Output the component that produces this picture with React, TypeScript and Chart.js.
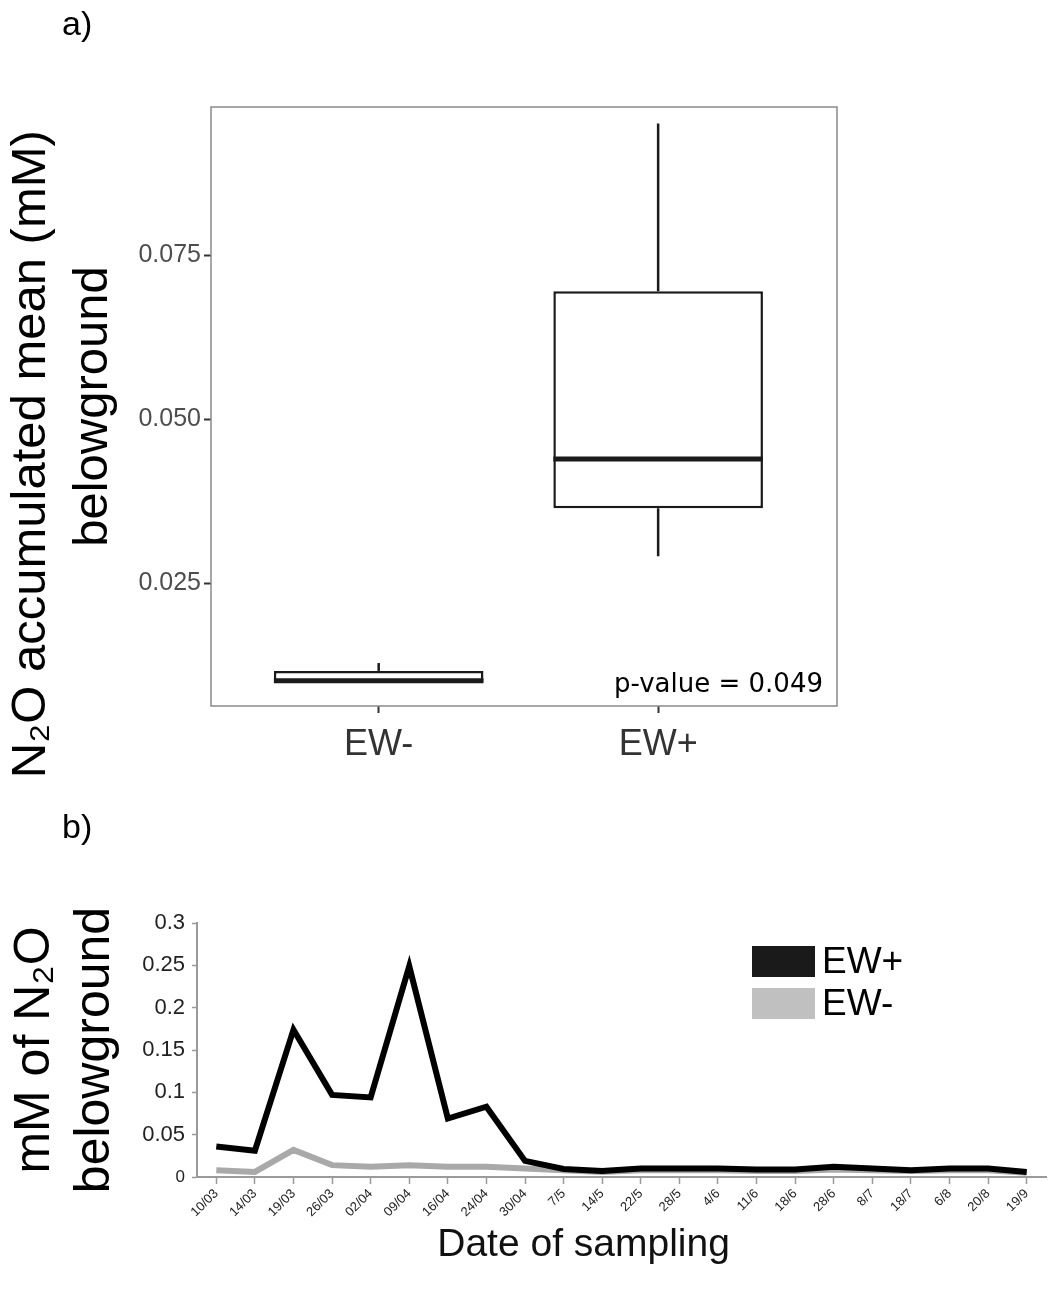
import React, { useEffect, useRef } from 'react';
import { Chart, registerables } from 'chart.js';

Chart.register(...registerables);

// ---------- Panel a) box plot data ----------
const boxCategories = ['EW-', 'EW+'];
const boxWhiskerLow = [0.0099, 0.0291];
const boxQ1 = [0.0099, 0.0364];
const boxMedian = [0.0101, 0.0439];
const boxQ3 = [0.0116, 0.0695];
const boxWhiskerHigh = [0.0128, 0.0951];
const boxYTicks = [0.025, 0.05, 0.075];
const pValueText = 'p-value = 0.049';

// ---------- Panel b) time series data ----------
const sampleDates = ['10/03', '14/03', '19/03', '26/03', '02/04', '09/04', '16/04', '24/04', '30/04', '7/5', '14/5', '22/5', '28/5', '4/6', '11/6', '18/6', '28/6', '8/7', '18/7', '6/8', '20/8', '19/9'];
const ewPlus = [0.036, 0.031, 0.174, 0.097, 0.094, 0.249, 0.069, 0.083, 0.019, 0.0095, 0.007, 0.010, 0.010, 0.010, 0.009, 0.009, 0.012, 0.010, 0.008, 0.010, 0.010, 0.006];
const ewMinus = [0.008, 0.006, 0.032, 0.014, 0.012, 0.014, 0.012, 0.012, 0.010, 0.008, 0.006, 0.008, 0.008, 0.008, 0.007, 0.007, 0.009, 0.008, 0.007, 0.008, 0.008, 0.005];
const lineYTicks = [0, 0.05, 0.1, 0.15, 0.2, 0.25, 0.3];
const seriesNames = ['EW+', 'EW-'];

const SANS = '"Liberation Sans", Arial, Helvetica, sans-serif';

const boxExtrasPlugin = {
  id: 'boxExtras',
  afterDatasetsDraw(chart: any) {
    const { ctx, scales, chartArea } = chart;
    const x = scales.x;
    const y = scales.y;
    ctx.save();
    ctx.strokeStyle = '#1a1a1a';
    ctx.lineCap = 'butt';
    boxCategories.forEach((_, i) => {
      const cx = x.getPixelForValue(i + 1);
      const half = x.getPixelForValue(i + 1 + 0.375) - cx;
      ctx.lineWidth = 2.5;
      ctx.beginPath();
      ctx.moveTo(cx, y.getPixelForValue(boxQ3[i]));
      ctx.lineTo(cx, y.getPixelForValue(boxWhiskerHigh[i]));
      ctx.moveTo(cx, y.getPixelForValue(boxQ1[i]));
      ctx.lineTo(cx, y.getPixelForValue(boxWhiskerLow[i]));
      ctx.stroke();
      ctx.lineWidth = 5;
      ctx.beginPath();
      const my = y.getPixelForValue(boxMedian[i]);
      ctx.moveTo(cx - half, my);
      ctx.lineTo(cx + half, my);
      ctx.stroke();
    });
    ctx.fillStyle = '#000';
    ctx.font = '26px "DejaVu Sans", sans-serif';
    ctx.textAlign = 'right';
    ctx.textBaseline = 'alphabetic';
    ctx.fillText(pValueText, chartArea.right - 14, chartArea.bottom - 14);
    ctx.restore();
  },
  afterDraw(chart: any) {
    const { ctx, chartArea } = chart;
    ctx.save();
    ctx.strokeStyle = '#8a8a8a';
    ctx.lineWidth = 1.5;
    ctx.strokeRect(chartArea.left, chartArea.top, chartArea.right - chartArea.left, chartArea.bottom - chartArea.top);
    ctx.restore();
  },
};

const lineLegendPlugin = {
  id: 'lineLegend',
  afterDraw(chart: any) {
    const { ctx, chartArea } = chart;
    ctx.save();
    const bx = chartArea.right - 294;
    let by = chartArea.top + 23;
    const colors = ['#1a1a1a', '#c0c0c0'];
    ctx.font = `37px ${SANS}`;
    ctx.textAlign = 'left';
    ctx.textBaseline = 'middle';
    seriesNames.forEach((name, i) => {
      ctx.fillStyle = colors[i];
      ctx.fillRect(bx, by, 63, 31);
      ctx.fillStyle = '#000';
      ctx.fillText(name, bx + 70, by + 17);
      by += 42;
    });
    ctx.restore();
  },
};

function BoxChart() {
  const ref = useRef<HTMLCanvasElement>(null);
  useEffect(() => {
    const chart = new Chart(ref.current as HTMLCanvasElement, {
      type: 'bar',
      data: {
        datasets: [
          {
            label: 'box',
            data: boxCategories.map((_, i) => ({ x: i + 1, y: [boxQ1[i], boxQ3[i]] })) as any,
            backgroundColor: '#ffffff',
            borderColor: '#1a1a1a',
            borderWidth: 2.5,
            borderSkipped: false,
            barPercentage: 0.75,
            categoryPercentage: 1,
          },
        ],
      },
      options: {
        responsive: false,
        animation: false,
        layout: { padding: { top: 107, right: 213, left: 0, bottom: 0 } },
        plugins: { legend: { display: false }, tooltip: { enabled: false }, title: { display: false } },
        scales: {
          x: {
            type: 'linear',
            offset: false,
            min: 0.4,
            max: 2.64,
            afterBuildTicks: (s: any) => {
              s.ticks = boxCategories.map((_, i) => ({ value: i + 1 }));
            },
            afterFit: (s: any) => {
              s.height = 84;
            },
            ticks: {
              autoSkip: false,
              maxRotation: 0,
              callback: (v: any) => boxCategories[Number(v) - 1] ?? '',
              font: { size: 36, family: SANS },
              color: '#333333',
              padding: 10,
            },
            grid: { display: true, offset: false, drawOnChartArea: false, drawTicks: true, tickLength: 7, tickColor: '#333333', tickWidth: 2 },
            border: { display: false },
          },
          y: {
            min: 0.00625,
            max: 0.0976,
            afterBuildTicks: (s: any) => {
              s.ticks = boxYTicks.map((v) => ({ value: v }));
            },
            afterFit: (s: any) => {
              s.width = 211;
            },
            ticks: {
              callback: (v: any) => Number(v).toFixed(3),
              font: { size: 25, family: SANS },
              color: '#4d4d4d',
              padding: 3,
            },
            grid: { display: true, drawOnChartArea: false, drawTicks: true, tickLength: 7, tickColor: '#333333', tickWidth: 2 },
            border: { display: false },
            title: {
              display: true,
              text: ['N\u2082O accumulated mean (mM)       ', 'belowground'],
              font: { size: 49, family: SANS, lineHeight: 1.26 },
              color: '#000',
              padding: { top: 1, bottom: 0 },
            },
          },
        },
      },
      plugins: [boxExtrasPlugin],
    });
    return () => chart.destroy();
  }, []);
  return <canvas ref={ref} width={1050} height={790} style={{ display: 'block' }} />;
}

function LineChart() {
  const ref = useRef<HTMLCanvasElement>(null);
  useEffect(() => {
    const chart = new Chart(ref.current as HTMLCanvasElement, {
      type: 'line',
      data: {
        labels: sampleDates,
        datasets: [
          {
            label: seriesNames[0],
            data: ewPlus,
            borderColor: '#000000',
            backgroundColor: '#000000',
            borderWidth: 6,
            pointRadius: 0,
            tension: 0,
            fill: false,
          },
          {
            label: seriesNames[1],
            data: ewMinus,
            borderColor: '#a9a9a9',
            backgroundColor: '#a9a9a9',
            borderWidth: 6,
            pointRadius: 0,
            tension: 0,
            fill: false,
          },
        ],
      },
      options: {
        responsive: false,
        animation: false,
        layout: { padding: { top: 133, right: 4, left: 0, bottom: 0 } },
        plugins: { legend: { display: false }, tooltip: { enabled: false }, title: { display: false } },
        scales: {
          x: {
            type: 'category',
            offset: true,
            afterFit: (s: any) => {
              s.height = 113;
            },
            ticks: {
              autoSkip: false,
              maxRotation: 45,
              minRotation: 45,
              font: { size: 13, family: SANS },
              color: '#222222',
              padding: 2,
            },
            grid: { display: true, offset: false, drawOnChartArea: false, drawTicks: true, tickLength: 7, tickColor: '#9a9a9a', tickWidth: 1.5 },
            border: { display: true, color: '#9a9a9a', width: 2 },
            title: {
              display: true,
              text: 'Date of sampling       ',
              font: { size: 39, family: SANS, lineHeight: 1.2 },
              color: '#111111',
              padding: { top: 0, bottom: 21 },
            },
          },
          y: {
            min: 0,
            max: 0.3,
            afterBuildTicks: (s: any) => {
              s.ticks = lineYTicks.map((v) => ({ value: v }));
            },
            afterFit: (s: any) => {
              s.width = 197;
            },
            ticks: {
              callback: (v: any) => String(Number(Number(v).toFixed(2))),
              font: (c: any) => ({ size: c.tick && c.tick.value === 0 ? 17 : 22, family: SANS }),
              color: '#222222',
              padding: 7,
            },
            grid: { display: true, drawOnChartArea: false, drawTicks: true, tickLength: 5, tickColor: '#9a9a9a', tickWidth: 1.5 },
            border: { display: true, color: '#9a9a9a', width: 2 },
            title: {
              display: true,
              text: ['mM of N\u2082O', 'belowground'],
              font: { size: 50, family: SANS, lineHeight: 1.2 },
              color: '#000',
              padding: { top: 5, bottom: 0 },
            },
          },
        },
      },
      plugins: [lineLegendPlugin],
    });
    return () => chart.destroy();
  }, []);
  return <canvas ref={ref} width={1050} height={500} style={{ display: 'block' }} />;
}

export default function App() {
  return (
    <div style={{ position: 'absolute', left: 0, top: 0, width: 1050, height: 1290, background: '#ffffff', overflow: 'hidden' }}>
      <div style={{ position: 'absolute', left: 0, top: 0 }}>
        <BoxChart />
      </div>
      <div style={{ position: 'absolute', left: 0, top: 790 }}>
        <LineChart />
      </div>
      <div style={{ position: 'absolute', left: 62, top: 4, fontFamily: SANS, fontSize: 34, lineHeight: '38px', color: '#000' }}>a)</div>
      <div style={{ position: 'absolute', left: 62, top: 807, fontFamily: SANS, fontSize: 34, lineHeight: '38px', color: '#000' }}>b)</div>
    </div>
  );
}
